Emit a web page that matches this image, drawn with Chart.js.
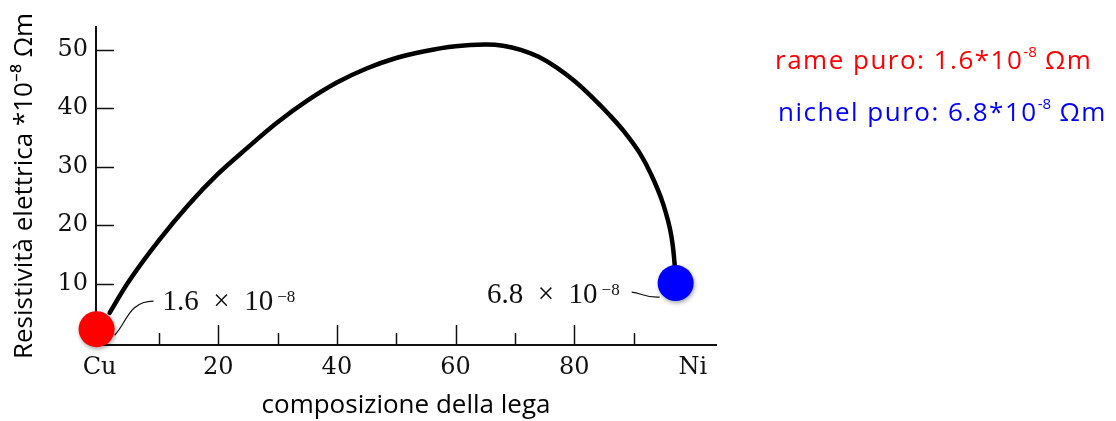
<!DOCTYPE html>
<html lang="it">
<head>
<meta charset="utf-8">
<title>Resistività elettrica lega Cu-Ni</title>
<script src="https://cdn.jsdelivr.net/npm/chart.js"></script>
<style>
  html, body { margin: 0; padding: 0; background: #fff; }
  #wrap { position: relative; width: 1116px; height: 421px; overflow: hidden; }
  #chart { position: absolute; left: 0; top: 0; }
  .note { position: absolute; font-family: 'Open Sans', sans-serif; font-size: 26px; line-height: 1; letter-spacing: 1.5px; white-space: nowrap; }
  .note sup { font-size: 0.58em; vertical-align: 0; position: relative; top: -0.8em; letter-spacing: 0; }
  #rame { left: 775px; top: 46px; color: #ff0000; }
  #nichel { left: 778px; top: 98px; color: #0000ff; }
</style>
</head>
<body>
<div id="wrap">
  <canvas id="chart" width="1116" height="421"></canvas>
  <div class="note" id="rame">rame puro: 1.6*10<sup>-8</sup> Ωm</div>
  <div class="note" id="nichel">nichel puro: 6.8*10<sup>-8</sup> Ωm</div>
</div>
<script>
// --- DATA ---
const composition = [1.7, 5, 10, 15, 20, 25, 30, 35, 40, 45, 50, 55, 60, 65, 68, 71, 74, 77, 80, 83, 86, 88.5, 91, 93, 95, 96.4, 97.2];
const resistivity = [5.0, 10.5, 17.4, 23.5, 28.8, 33.3, 37.6, 41.3, 44.4, 46.8, 48.6, 49.8, 50.6, 50.9, 50.7, 50.0, 48.8, 47.0, 44.7, 41.9, 38.8, 35.9, 32.4, 28.6, 23.6, 18.0, 10.1];

const dotComposition = [-0.5, 97.1];
const dotResistivity = [2.2, 10.1];
const dotColors = ['#ff0000', '#0000ff'];
const dotNotes = ['1.6  ×  10', '6.8  ×  10'];
const noteExponent = '−8';

const yTicks = [10, 20, 30, 40, 50];
const xTicks = [0, 20, 40, 60, 80, 100];
const xTickLabels = ['Cu', '20', '40', '60', '80', 'Ni'];
const xMinorTicks = [10, 30, 50, 70, 90];

const INK = '#111';
const SERIF = "'DejaVu Serif', serif";
const NOTE_FONT = "'Liberation Serif', serif";

// --- PLUGINS ---
// tick marks point inward, like the printed figure
const inwardTicks = {
    id: 'inwardTicks',
    beforeDatasetsDraw(chart) {
        const { ctx, chartArea, scales: { x, y } } = chart;
        ctx.save();
        ctx.strokeStyle = INK;
        ctx.lineWidth = 1.5;
        ctx.beginPath();
        yTicks.forEach(v => {
            const py = Math.round(y.getPixelForValue(v)) + 0.5;
            ctx.moveTo(chartArea.left, py);
            ctx.lineTo(chartArea.left + 18, py);
        });
        xTicks.slice(1, -1).forEach(v => {
            const px = Math.round(x.getPixelForValue(v)) + 0.5;
            ctx.moveTo(px, chartArea.bottom);
            ctx.lineTo(px, chartArea.bottom - 20);
        });
        xMinorTicks.forEach(v => {
            const px = Math.round(x.getPixelForValue(v)) + 0.5;
            ctx.moveTo(px, chartArea.bottom);
            ctx.lineTo(px, chartArea.bottom - 12);
        });
        ctx.stroke();
        ctx.restore();
    }
};

// soft shadow under the two coloured dots
const dotShadow = {
    id: 'dotShadow',
    beforeDatasetDraw(chart, args) {
        if (args.index !== 1) return;
        const ctx = chart.ctx;
        ctx.save();
        ctx.shadowColor = 'rgba(0,0,0,0.35)';
        ctx.shadowBlur = 4;
        ctx.shadowOffsetX = 1;
        ctx.shadowOffsetY = 2;
    },
    afterDatasetDraw(chart, args) {
        if (args.index === 1) chart.ctx.restore();
    }
};

// "1.6 x 10^-8" and "6.8 x 10^-8" labels with their leader lines
const dotAnnotations = {
    id: 'dotAnnotations',
    afterDatasetsDraw(chart) {
        const ctx = chart.ctx;
        const pts = chart.getDatasetMeta(1).data;
        const mainFont = `29px ${NOTE_FONT}`;
        const supFont = `17px ${NOTE_FONT}`;
        ctx.save();
        ctx.fillStyle = INK;
        ctx.strokeStyle = INK;
        ctx.lineWidth = 1.2;
        ctx.textBaseline = 'alphabetic';

        // Cu: leader goes up-right, text on the right
        const cu = pts[0];
        ctx.beginPath();
        ctx.moveTo(cu.x + 18, cu.y + 6);
        ctx.bezierCurveTo(cu.x + 30, cu.y - 6, cu.x + 32, cu.y - 28, cu.x + 57, cu.y - 28);
        ctx.stroke();
        let tx = cu.x + 66, ty = cu.y - 19;
        ctx.font = mainFont;
        ctx.fillText(dotNotes[0], tx, ty);
        tx += ctx.measureText(dotNotes[0]).width + 4;
        ctx.font = supFont;
        ctx.fillText(noteExponent, tx, ty - 8);

        // Ni: text on the left, wavy leader into the dot
        const ni = pts[1];
        ctx.font = supFont;
        const expW = ctx.measureText(noteExponent).width;
        ctx.font = mainFont;
        const mainW = ctx.measureText(dotNotes[1]).width;
        const endX = ni.x - 56;
        ty = ni.y + 20;
        ctx.fillText(dotNotes[1], endX - expW - 4 - mainW, ty);
        ctx.font = supFont;
        ctx.fillText(noteExponent, endX - expW, ty - 8);
        ctx.beginPath();
        ctx.moveTo(ni.x - 44, ni.y + 9);
        ctx.bezierCurveTo(ni.x - 34, ni.y + 10, ni.x - 30, ni.y + 15, ni.x - 16, ni.y + 14);
        ctx.stroke();
        ctx.restore();
    }
};

// --- CHART ---
const ctx = document.getElementById('chart').getContext('2d');

new Chart(ctx, {
    type: 'scatter',
    data: {
        datasets: [
            {
                label: 'Resistività',
                data: composition.map((c, i) => ({ x: c, y: resistivity[i] })),
                showLine: true,
                borderColor: '#000',
                borderWidth: 4.5,
                borderCapStyle: 'round',
                pointRadius: 0,
                tension: 0.4,
                clip: false,
                order: 2,
            },
            {
                label: 'Cu / Ni',
                data: dotComposition.map((c, i) => ({ x: c, y: dotResistivity[i] })),
                pointRadius: 18,
                pointBackgroundColor: dotColors,
                pointBorderWidth: 0,
                clip: false,
                order: 1,
            },
        ],
    },
    options: {
        responsive: false,
        devicePixelRatio: 1,
        animation: false,
        layout: { padding: { left: 0, top: 27, right: 400, bottom: 0 } },
        plugins: { legend: { display: false }, tooltip: { enabled: false } },
        scales: {
            x: {
                type: 'linear',
                min: -0.6,
                max: 103.9,
                afterBuildTicks: s => { s.ticks = xTicks.map(v => ({ value: v })); },
                afterFit: s => { s.height = 76; },
                grid: { display: false, drawTicks: false },
                border: { display: true, color: INK, width: 2 },
                ticks: {
                    autoSkip: false,
                    maxRotation: 0,
                    padding: 8,
                    color: INK,
                    font: { family: SERIF, size: 24 },
                    callback: v => xTickLabels[xTicks.indexOf(v)] ?? '',
                },
                title: {
                    display: true,
                    text: 'composizione della lega',
                    color: '#000',
                    font: { family: "'Open Sans', sans-serif", size: 26 },
                    padding: { top: 0, bottom: 0 },
                },
            },
            y: {
                type: 'linear',
                min: -0.5,
                max: 53.9,
                afterBuildTicks: s => { s.ticks = yTicks.map(v => ({ value: v })); },
                afterFit: s => { s.width = 96; },
                grid: { display: false, drawTicks: false },
                border: { display: true, color: INK, width: 2 },
                ticks: {
                    padding: 8,
                    color: INK,
                    font: { family: SERIF, size: 24 },
                },
                title: {
                    display: true,
                    text: 'Resistività elettrica *10⁻⁸ Ωm',
                    color: '#000',
                    font: { family: "'Open Sans', sans-serif", size: 26 },
                    padding: { top: 9, bottom: 0 },
                },
            },
        },
    },
    plugins: [inwardTicks, dotShadow, dotAnnotations],
});
</script>
</body>
</html>
